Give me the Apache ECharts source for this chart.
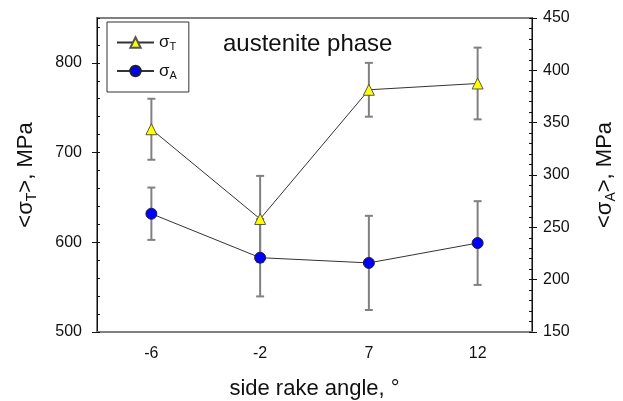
<!DOCTYPE html>
<html>
<head>
<meta charset="utf-8">
<script src="https://cdn.jsdelivr.net/npm/echarts@6/dist/echarts.min.js"></script>
<style>
  html, body { margin: 0; padding: 0; background: #fff; }
  #chart { width: 623px; height: 401px; }
</style>
</head>
<body>
<div id="chart"></div>
<script>
const angles = ['-6', '-2', '7', '12'];
const sigmaT = [726, 626, 770, 777];
const sigmaTErr = [34, 48, 30, 40];
const sigmaA = [263, 221, 216, 235];
const sigmaAErr = [25, 37, 45, 40];

const font = 'Liberation Sans, Arial, sans-serif';
const subRich = {
    n: { fontSize: 22, fontFamily: font, color: '#111', lineHeight: 26 },
    s: { fontSize: 14, fontFamily: font, color: '#111', verticalAlign: 'bottom', lineHeight: 14 }
};
const legRich = {
    n: { fontSize: 17, fontFamily: font, color: '#111', lineHeight: 20 },
    s: { fontSize: 11, fontFamily: font, color: '#111', verticalAlign: 'bottom', lineHeight: 11 }
};

function errBars(vals, errs) {
    return vals.map((v, i) => [i, v - errs[i], v + errs[i]]);
}

function renderErr(params, api) {
    const i = api.value(0);
    const lo = api.coord([i, api.value(1)]);
    const hi = api.coord([i, api.value(2)]);
    const st = { stroke: '#808080', lineWidth: 2 };
    return {
        type: 'group',
        children: [
            { type: 'line', shape: { x1: lo[0], y1: lo[1], x2: hi[0], y2: hi[1] }, style: st },
            { type: 'line', shape: { x1: lo[0] - 4, y1: lo[1], x2: lo[0] + 4, y2: lo[1] }, style: st },
            { type: 'line', shape: { x1: hi[0] - 4, y1: hi[1], x2: hi[0] + 4, y2: hi[1] }, style: st }
        ]
    };
}

const chart = echarts.init(document.getElementById('chart'));
chart.setOption({
    animation: false,
    title: {
        text: 'austenite phase',
        left: 223,
        top: 32,
        padding: 0,
        textStyle: { fontSize: 24, fontWeight: 'normal', fontFamily: font, color: '#111' }
    },
    legend: {
        orient: 'vertical',
        left: 107,
        top: 22,
        padding: [12, 12, 11, 9],
        itemGap: 10,
        itemWidth: 37,
        itemHeight: 13,
        borderColor: '#333',
        borderWidth: 1,
        data: ['σT', 'σA'],
        formatter: (name) => '{n|σ}{s|' + name.slice(1) + '}',
        textStyle: { rich: legRich }
    },
    grid: {
        left: 97, right: 91, top: 18, bottom: 69,
        outerBoundsMode: 'none',
        show: true,
        borderColor: '#808080',
        borderWidth: 2
    },
    xAxis: {
        type: 'category',
        data: angles,
        boundaryGap: true,
        name: 'side rake angle, °',
        nameLocation: 'middle',
        nameGap: 46,
        nameTextStyle: { fontSize: 22, fontFamily: font, color: '#111' },
        axisLine: { lineStyle: { color: '#808080', width: 2 } },
        axisTick: { alignWithLabel: true, length: 5, lineStyle: { color: '#808080', width: 2 } },
        axisLabel: { fontSize: 16, fontFamily: font, color: '#111', margin: 14 },
        splitLine: { show: false }
    },
    yAxis: [
        {
            type: 'value',
            position: 'left',
            min: 500, max: 850, interval: 100,
            name: '{n|<σ}{s|T}{n|>, MPa}',
            nameLocation: 'middle',
            nameRotate: 90,
            nameGap: 58,
            nameTextStyle: { rich: subRich },
            axisLine: { show: true, lineStyle: { color: '#111', width: 1 } },
            axisTick: { show: true, length: 5, lineStyle: { color: '#111' } },
            axisLabel: { fontSize: 16, fontFamily: font, color: '#111', margin: 15, showMaxLabel: false },
            splitLine: { show: false }
        },
        {
            type: 'value',
            position: 'right',
            min: 150, max: 450, interval: 50,
            name: '{n|<σ}{s|A}{n|>, MPa}',
            nameLocation: 'middle',
            nameRotate: 90,
            nameGap: 60,
            nameTextStyle: { rich: subRich },
            axisLine: { show: true, lineStyle: { color: '#111', width: 1 } },
            axisTick: { show: true, length: 5, lineStyle: { color: '#111' } },
            axisLabel: { fontSize: 16, fontFamily: font, color: '#111', margin: 11 },
            splitLine: { show: false }
        },
        {
            type: 'value',
            position: 'left',
            min: 500, max: 850, interval: 20,
            axisLine: { show: false },
            axisTick: { show: true, inside: true, length: 3, lineStyle: { color: '#111' } },
            axisLabel: { show: false },
            splitLine: { show: false }
        },
        {
            type: 'value',
            position: 'right',
            min: 150, max: 450, interval: 10,
            axisLine: { show: false },
            axisTick: { show: true, inside: true, length: 3, lineStyle: { color: '#111' } },
            axisLabel: { show: false },
            splitLine: { show: false }
        }
    ],
    series: [
        {
            type: 'custom',
            yAxisIndex: 0,
            renderItem: renderErr,
            encode: { x: 0, y: [1, 2] },
            data: errBars(sigmaT, sigmaTErr),
            z: 1
        },
        {
            type: 'custom',
            yAxisIndex: 1,
            renderItem: renderErr,
            encode: { x: 0, y: [1, 2] },
            data: errBars(sigmaA, sigmaAErr),
            z: 1
        },
        {
            name: 'σT',
            type: 'line',
            yAxisIndex: 0,
            data: sigmaT,
            symbol: 'triangle',
            symbolSize: 11,
            lineStyle: { color: '#333', width: 1 },
            itemStyle: { color: '#ffff00', borderColor: '#555', borderWidth: 1 },
            z: 3
        },
        {
            name: 'σA',
            type: 'line',
            yAxisIndex: 1,
            data: sigmaA,
            symbol: 'circle',
            symbolSize: 11,
            lineStyle: { color: '#333', width: 1 },
            itemStyle: { color: '#0000ff', borderColor: '#222', borderWidth: 1 },
            z: 3
        }
    ]
});
</script>
</body>
</html>
